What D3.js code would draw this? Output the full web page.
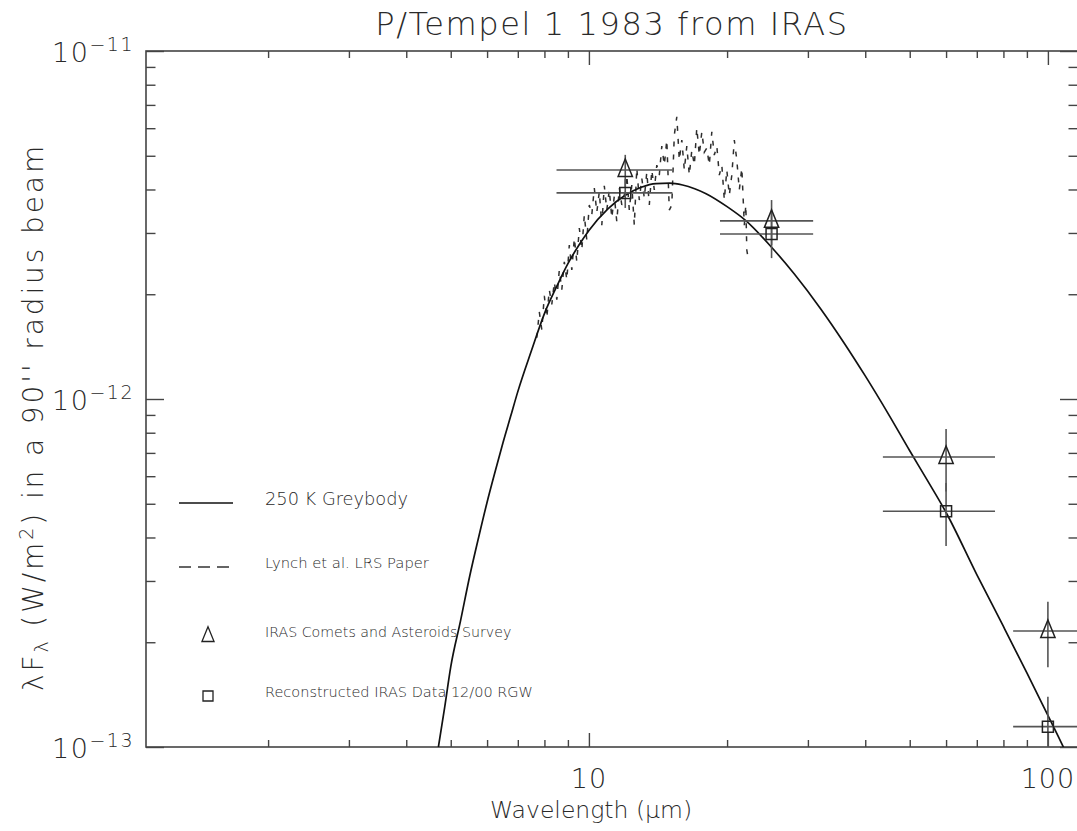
<!DOCTYPE html>
<html><head><meta charset="utf-8">
<script src="https://cdn.jsdelivr.net/npm/d3@7"></script>
<style>
body{margin:0;background:#fff}
svg{display:block}
text{font-family:"DejaVu Sans",sans-serif;font-weight:200;fill:#2a2a2a}
</style>
</head><body>
<svg id="c" width="1077" height="831"></svg>
<script>
// ---------------- data ----------------
const titleText = "P/Tempel 1 1983 from IRAS";
const xLabelText = "Wavelength (\u03bcm)";

// 250 K greybody model curve (wavelength in um, lambda*F_lambda in W/m^2)
const greyLambda = [4.7,4.85,5.0,5.25,5.5,5.75,6.0,6.25,6.5,6.75,7.0,7.5,8.0,8.5,9.0,9.5,10,11,12,13,14,15,16,17,18,20,22,25,28,32,36,40,45,50,55,60,70,80,90,100,105,110,120];
const greyFlux = [1.00e-13,1.30e-13,1.70e-13,2.30e-13,3.10e-13,4.00e-13,5.05e-13,6.20e-13,7.50e-13,8.90e-13,1.05e-12,1.38e-12,1.76e-12,2.10e-12,2.45e-12,2.76e-12,3.05e-12,3.52e-12,3.85e-12,4.06e-12,4.16e-12,4.17e-12,4.12e-12,4.02e-12,3.89e-12,3.57e-12,3.25e-12,2.73e-12,2.29e-12,1.815e-12,1.447e-12,1.165e-12,9.02e-13,7.10e-13,5.75e-13,4.72e-13,3.13e-13,2.22e-13,1.633e-13,1.232e-13,1.081e-13,9.53e-14,7.51e-14];

// Lynch et al. LRS spectrum (wavelength um, flux in units of 1e-12 W/m^2)
const lrsLambda = [7.700,7.797,7.896,7.995,8.096,8.198,8.302,8.407,8.513,8.620,8.729,8.839,8.951,9.064,9.178,9.294,9.411,9.530,9.650,9.772,9.895,10.020,10.146,10.274,10.404,10.535,10.668,10.803,10.939,11.077,11.217,11.359,11.502,11.647,11.794,11.943,12.094,12.246,12.401,12.557,12.716,12.876,13.039,13.203,13.370,13.539,13.710,13.883,14.058,14.235,14.415,14.597,14.781,14.968,15.157,15.348,15.542,15.738,15.937,16.138,16.342,16.548,16.757,16.968,17.182,17.399,17.619,17.841,18.066,18.294,18.525,18.759,18.996,19.236,19.479,19.725,19.974,20.226,20.481,20.739,21.001,21.266,21.534,21.806,21.971,22.081,22.192];
const lrsFlux = [1.50,1.78,1.58,1.98,1.71,2.06,1.87,2.17,1.93,2.35,2.06,2.48,2.20,2.77,2.35,2.90,2.48,3.10,2.68,3.38,2.86,3.61,3.38,4.04,3.44,3.94,3.16,4.10,3.49,3.99,3.31,3.83,3.23,4.04,3.61,3.85,4.40,3.49,4.12,3.16,4.61,3.73,4.31,3.78,4.49,3.61,4.55,3.99,4.70,4.40,5.33,4.70,5.55,3.49,3.61,5.74,6.47,4.86,5.55,4.55,5.33,4.40,5.19,4.70,6.01,5.02,5.86,5.12,5.26,4.70,5.86,5.02,5.33,4.40,4.70,3.73,4.55,3.85,4.40,5.55,4.86,3.99,4.61,3.16,3.61,2.68,2.57];
const lrsUnit = 1e-12;

// IRAS photometry: band centres and band-width extents (um)
const bandCenter = [12, 25, 60, 100];
const bandLo = [8.5, 19.3, 43.7, 84];
const bandHi = [15.2, 30.8, 76.7, 125];
// IRAS Comets and Asteroids Survey (triangles)
const casFlux = [4.55e-12, 3.25e-12, 6.81e-13, 2.155e-13];
const casErr  = [0.48e-12, 0.48e-12, 1.39e-13, 0.46e-13];
// Reconstructed IRAS data 12/00 RGW (squares)
const recFlux = [3.91e-12, 2.98e-12, 4.76e-13, 1.144e-13];
const recErr  = [0.37e-12, 0.44e-12, 0.98e-13, 0.25e-13];

const xMajorTicks = [10, 100];
const xMinorTicks = [2,3,4,5,6,7,8,9,20,30,40,50,60,70,80,90];
const yMajorExp = [-11, -12, -13];
const yMinorTicks = [2e-13,3e-13,4e-13,5e-13,6e-13,7e-13,8e-13,9e-13,2e-12,3e-12,4e-12,5e-12,6e-12,7e-12,8e-12,9e-12];

const legendLabels = ["250 K Greybody","Lynch et al. LRS Paper","IRAS Comets and Asteroids Survey","Reconstructed IRAS Data 12/00 RGW"];

// ---------------- layout ----------------
const L = 146, R = 1078, T = 51, B = 747;
const svg = d3.select("#c");
const x = d3.scaleLog().domain([1.084, 116.3]).range([L, R]);
const y = d3.scaleLog().domain([1e-13, 1e-11]).range([B, T]);

svg.append("defs").append("clipPath").attr("id","plotclip")
  .append("rect").attr("x",L).attr("y",T).attr("width",R-L).attr("height",B-T);

// ---- axes (ticks pointing inward) ----
function axisG(axis, tx, ty){
  const g = svg.append("g").attr("transform",`translate(${tx},${ty})`).call(axis);
  g.select(".domain").remove();
  g.selectAll("text").remove();
  g.selectAll("line").attr("stroke", "#444").attr("stroke-width", 1.4);
  return g;
}
axisG(d3.axisBottom(x).tickValues(xMinorTicks).tickSizeInner(-7).tickSizeOuter(0), 0, B);
axisG(d3.axisBottom(x).tickValues(xMajorTicks).tickSizeInner(-14).tickSizeOuter(0), 0, B);
axisG(d3.axisTop(x).tickValues(xMinorTicks).tickSizeInner(-7).tickSizeOuter(0), 0, T);
axisG(d3.axisTop(x).tickValues(xMajorTicks).tickSizeInner(-14).tickSizeOuter(0), 0, T);
const yMajorVals = yMajorExp.map(e => Math.pow(10, e));
axisG(d3.axisLeft(y).tickValues(yMinorTicks).tickSizeInner(-9.5).tickSizeOuter(0), L, 0);
axisG(d3.axisLeft(y).tickValues(yMajorVals).tickSizeInner(-18).tickSizeOuter(0), L, 0);
axisG(d3.axisRight(y).tickValues(yMinorTicks).tickSizeInner(-9.5).tickSizeOuter(0), R, 0);
axisG(d3.axisRight(y).tickValues(yMajorVals).tickSizeInner(-18).tickSizeOuter(0), R, 0);

svg.append("rect").attr("x",L).attr("y",T).attr("width",R-L).attr("height",B-T)
  .attr("fill","none").attr("stroke","#444").attr("stroke-width",1.6);

// ---- tick labels ----
xMajorTicks.forEach(v => {
  svg.append("text").attr("x", x(v)).attr("y", B + 41).attr("text-anchor","middle")
    .attr("font-size", 27).attr("letter-spacing", 1).text(String(v));
});
yMajorExp.forEach(e => {
  const t = svg.append("text").attr("x", 134).attr("y", y(Math.pow(10,e)) + 11)
    .attr("text-anchor","end").attr("font-size", 27).attr("letter-spacing", 1.5);
  t.append("tspan").text("10");
  t.append("tspan").attr("dy", -11).attr("font-size", 19).text("\u2212" + String(-e));
});

// ---- titles ----
svg.append("text").attr("x", (L+R)/2).attr("y", 35).attr("text-anchor","middle")
  .attr("font-size", 32).attr("letter-spacing", 1.6).text(titleText);
svg.append("text").attr("x", 591).attr("y", 818).attr("text-anchor","middle")
  .attr("font-size", 23.5).text(xLabelText);
const yl = svg.append("text").attr("transform","translate(43,417) rotate(-90)")
  .attr("text-anchor","middle").attr("font-size", 28).attr("letter-spacing", 2.9);
yl.append("tspan").text("\u03bbF");
yl.append("tspan").attr("font-size",19).attr("dy",5).text("\u03bb");
yl.append("tspan").attr("dy",-5).text(" (W/m");
yl.append("tspan").attr("font-size",19).attr("dy",-10).text("2");
yl.append("tspan").attr("dy",10).text(") in a 90'' radius beam");

// ---- plot content ----
const plot = svg.append("g").attr("clip-path","url(#plotclip)");
const line = d3.line().x(d => x(d[0])).y(d => y(d[1]));

// LRS spectrum
plot.append("path").datum(lrsLambda.map((l,i) => [l, lrsFlux[i]*lrsUnit]))
  .attr("d", line).attr("fill","none").attr("stroke", "#2e2e2e")
  .attr("stroke-width", 1.5).attr("stroke-dasharray","5,8");

// greybody
plot.append("path").datum(greyLambda.map((l,i) => [l, greyFlux[i]]))
  .attr("d", d3.line().x(d => x(d[0])).y(d => y(d[1])).curve(d3.curveMonotoneX))
  .attr("fill","none").attr("stroke", "#111").attr("stroke-width", 1.7);

// error bars
function errBars(flux, err){
  bandCenter.forEach((c,i) => {
    plot.append("line").attr("x1", x(bandLo[i])).attr("x2", x(bandHi[i]))
      .attr("y1", y(flux[i])).attr("y2", y(flux[i]))
      .attr("stroke","#555").attr("stroke-width",1.6);
    const lo = Math.max(flux[i]-err[i], 5e-14);
    plot.append("line").attr("x1", x(c)).attr("x2", x(c))
      .attr("y1", y(flux[i]+err[i])).attr("y2", y(lo))
      .attr("stroke","#555").attr("stroke-width",1.6);
  });
}
errBars(casFlux, casErr);
errBars(recFlux, recErr);

const triPath = (s) => `M0,${-0.85*s}L${0.55*s},${0.5*s}L${-0.55*s},${0.5*s}Z`;
const sqPath = (s) => `M${-s/2},${-s/2}h${s}v${s}h${-s}Z`;

plot.selectAll(".tri").data(bandCenter.map((c,i)=>[c, casFlux[i]])).enter()
  .append("path").attr("transform", d => `translate(${x(d[0])},${y(d[1])})`)
  .attr("d", triPath(13)).attr("fill","none").attr("stroke","#222").attr("stroke-width",1.5);
plot.selectAll(".sq").data(bandCenter.map((c,i)=>[c, recFlux[i]])).enter()
  .append("path").attr("transform", d => `translate(${x(d[0])},${y(d[1])})`)
  .attr("d", sqPath(11)).attr("fill","none").attr("stroke","#222").attr("stroke-width",1.5);

// ---- legend ----
const lg = svg.append("g");
lg.append("line").attr("x1",179).attr("x2",233).attr("y1",503).attr("y2",503).attr("stroke","#111").attr("stroke-width",1.5);
lg.append("line").attr("x1",179).attr("x2",230).attr("y1",567).attr("y2",567).attr("stroke","#333").attr("stroke-width",1.5).attr("stroke-dasharray","12,7");
lg.append("path").attr("transform","translate(208,636)").attr("d", triPath(11)).attr("fill","none").attr("stroke","#222").attr("stroke-width",1.3);
lg.append("path").attr("transform","translate(208,696)").attr("d", sqPath(10)).attr("fill","none").attr("stroke","#222").attr("stroke-width",1.3);
const lgY = [505, 568, 637, 697];
const lgSize = [17.8, 14.8, 14.2, 14.5];
legendLabels.forEach((t,i) => {
  lg.append("text").attr("x", 265).attr("y", lgY[i]).attr("font-size", lgSize[i]).text(t);
});
</script>
</body></html>
